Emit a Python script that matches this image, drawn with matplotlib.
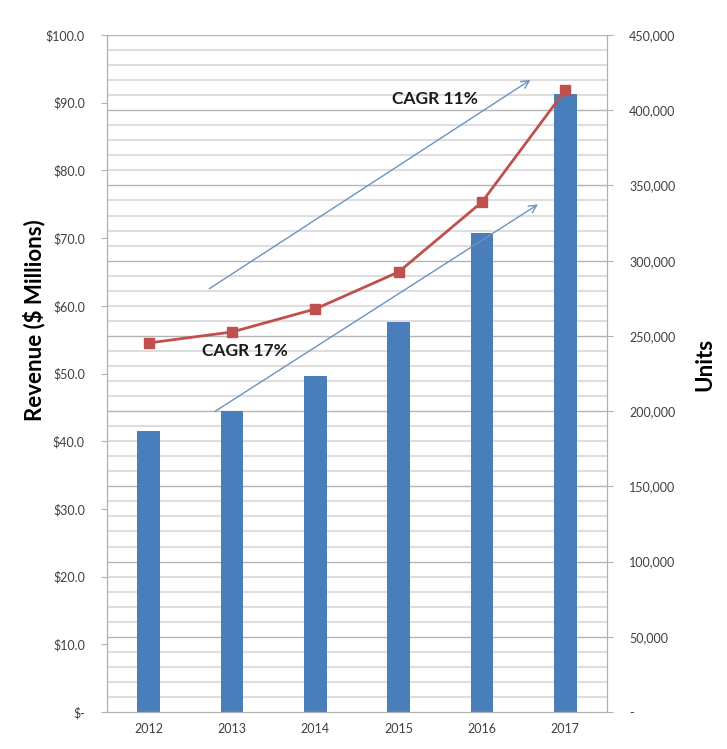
import numpy as np
import matplotlib.pyplot as plt
from matplotlib.ticker import FuncFormatter

# --- Data ---------------------------------------------------------------
years = ["2012", "2013", "2014", "2015", "2016", "2017"]
revenue = [41.5, 44.5, 49.6, 57.6, 70.8, 91.3]          # $ Millions (bars, left axis)
units = [245300, 252600, 267900, 292500, 339000, 413400]  # units (line, right axis)

plt.rcParams['font.family'] = ['Lato', 'DejaVu Sans']

fig = plt.figure(figsize=(7.27, 7.49), dpi=100)
ax = fig.add_axes([107 / 727, 37 / 749, 500 / 727, 677 / 749])
ax2 = ax.twinx()

x = np.arange(len(years))

# grid lines follow the units axis (every 10,000, darker every 50,000)
for u in range(10000, 450001, 10000):
    if u % 50000 == 0:
        ax.axhline(u / 4500, color='#b4b4b4', lw=1.0, zorder=0)
    else:
        ax.axhline(u / 4500, color='#dedede', lw=1.5, zorder=0)

ax.bar(x, revenue, width=0.27, color='#4a7ebb', zorder=2)
ax2.plot(x, units, color='#c0504d', lw=2, marker='s', markersize=7,
         markerfacecolor='#c0504d', markeredgecolor='#c0504d', zorder=3)

ax.set_xlim(-0.5, len(years) - 0.5)
ax.set_ylim(0, 100)
ax2.set_ylim(0, 450000)

ax.set_xticks(x)
ax.set_xticklabels(years)
ax.set_yticks(np.arange(0, 101, 10))
ax.yaxis.set_major_formatter(FuncFormatter(lambda v, p: "$-" if v == 0 else "${:.1f}".format(v)))
ax2.set_yticks(np.arange(0, 450001, 50000))
ax2.yaxis.set_major_formatter(FuncFormatter(lambda v, p: "-" if v == 0 else "{:,.0f}".format(v)))

for a in (ax, ax2):
    for s in a.spines.values():
        s.set_color('#b0b0b0')
    a.spines['top'].set_visible(False)
    a.tick_params(axis='both', colors='#b0b0b0', labelcolor='#404040', labelsize=9, length=4)
ax.tick_params(axis='x', length=0, pad=8)
ax.tick_params(axis='y', pad=12)
ax2.tick_params(axis='y', pad=12)

ax.set_ylabel("Revenue ($ Millions)", fontsize=16, fontweight='bold', va='center')
ax.yaxis.set_label_coords(-0.146, 0.579)
ax2.set_ylabel("Units", fontsize=16, fontweight='bold', va='center', rotation=90)
ax2.yaxis.set_label_coords(1.196, 0.514)

# CAGR arrows and labels
arrow = dict(arrowstyle='->', color='#6a93c0', lw=1.0, mutation_scale=14)
ax.annotate("", xy=(4.61, 93.6), xytext=(0.70, 62.3), arrowprops=arrow, zorder=4)
ax.annotate("", xy=(4.70, 75.2), xytext=(0.77, 44.2), arrowprops=arrow, zorder=4)
ax2.text(3.44, 90.5 * 4500, "CAGR 11%", fontsize=12.5, fontweight='bold', ha='center', va='center', color='#1a1a1a')
ax2.text(1.16, 53.3 * 4500, "CAGR 17%", fontsize=12.5, fontweight='bold', ha='center', va='center', color='#1a1a1a')

fig.savefig("out.png", dpi=100)
